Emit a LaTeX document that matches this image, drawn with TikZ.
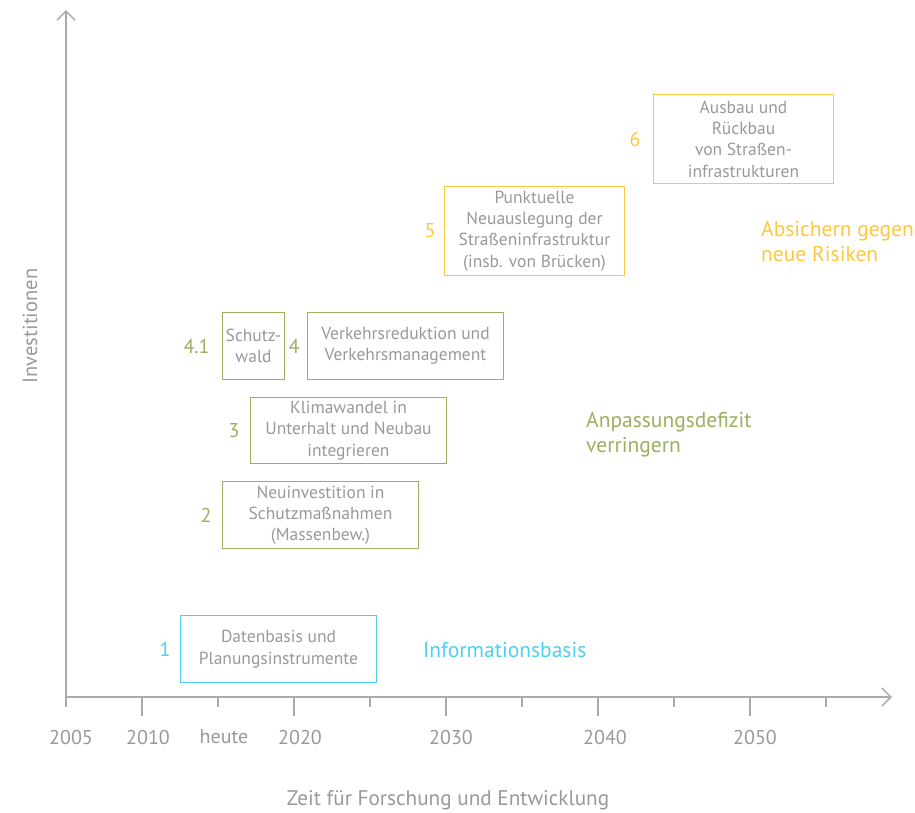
\documentclass[tikz,border=0pt]{standalone}
\usepackage{fontspec}
\setmainfont{PT Sans}
\usetikzlibrary{arrows.meta,positioning}
\definecolor{achsgrau}{HTML}{AAAAAA}
\definecolor{textgrau}{HTML}{999999}
\definecolor{infoblau}{HTML}{4FCFF0}
\definecolor{anpgruen}{HTML}{9BB05F}
\definecolor{risikogelb}{HTML}{FFC83C}

\begin{document}
\begin{tikzpicture}[x=1pt,y=-1pt,
  achse/.style={achsgrau,line width=1.5pt},
  massnahme/.style={draw,line width=1.4pt,text=textgrau,align=center,inner sep=0pt,
    font=\fontsize{17.5}{21.3}\selectfont},
  nummer/.style={font=\fontsize{20}{20}\selectfont,inner sep=0pt},
  ziel/.style={font=\fontsize{21.5}{25}\selectfont,align=left,anchor=west,inner sep=0pt},
  jahr/.style={text=textgrau,font=\fontsize{20}{20}\selectfont,inner sep=0pt}]
\useasboundingbox (0,0) rectangle (915,812);

% Achsen
\coordinate (O) at (66,697);
\coordinate (ytop) at (66,10);
\coordinate (xend) at (892,697);
\draw[achse,-{Straight Barb[length=9pt,width=18pt]}] (O) -- (ytop);
\draw[achse,-{Straight Barb[length=9pt,width=18pt]}] (O) -- (xend);
\foreach \x in {66,218,370,522,674,826}
  \draw[achse] (\x,697) -- (\x,707);
\foreach \x in {142,294,446,598,750}
  \draw[achse] (\x,697) -- (\x,716);
\foreach \x/\t in {71/2005,148/2010,224/heute,300/2020,451/2030,605/2040,755/2050}
  \node[jahr] at (\x,737) {\t};
\node[jahr,rotate=90,font=\fontsize{20.5}{20.5}\selectfont] (yachse) at (30,326) {Investitionen};
\node[jahr,font=\fontsize{21.2}{21.2}\selectfont] (xachse) at (448,800) {Zeit für Forschung und Entwicklung};

% Massnahmen
\node[massnahme,draw=infoblau,minimum width=196pt,minimum height=67pt] (b1) at (278.5,649)
  {Datenbasis und\\Planungsinstrumente};
\node[massnahme,draw=anpgruen,minimum width=196pt,minimum height=67pt] (b2) at (320.5,515)
  {Neuinvestition in\\Schutzmaßnahmen\\(Massenbew.)};
\node[massnahme,draw=anpgruen,minimum width=196pt,minimum height=66pt] (b3) at (348.5,430.5)
  {Klimawandel in\\Unterhalt und Neubau\\integrieren};
\node[massnahme,draw=anpgruen,minimum width=62pt,minimum height=67pt] (b41) at (253.5,346)
  {Schutz-\\wald};
\node[massnahme,draw=anpgruen,minimum width=196pt,minimum height=67pt] (b4) at (405.5,346)
  {Verkehrsreduktion und\\Verkehrsmanagement};
\node[massnahme,draw=risikogelb,minimum width=180pt,minimum height=89pt] (b5) at (534.5,231)
  {Punktuelle\\Neuauslegung der\\Straßeninfrastruktur\\(insb. von Brücken)};
\node[massnahme,draw=risikogelb,minimum width=180pt,minimum height=89pt] (b6) at (743.5,139)
  {Ausbau und\\Rückbau\\von Straßen-\\infrastrukturen};

% Nummern
\node[nummer,infoblau,left=9pt of b1] (n1) {1};
\node[nummer,anpgruen,left=10pt of b2] (n2) {2};
\node[nummer,anpgruen,left=10pt of b3] (n3) {3};
\node[nummer,anpgruen,left=12pt of b41] (n41) {4.1};
\node[nummer,anpgruen,left=7pt of b4] (n4) {4};
\node[nummer,risikogelb,left=8pt of b5] (n5) {5};
\node[nummer,risikogelb,left=12pt of b6] (n6) {6};

% Ziele
\node[ziel,infoblau] (z1) at (423,650) {Informationsbasis};
\node[ziel,anpgruen] (z2) at (586,435) {Anpassungsdefizit\\verringern};
\node[ziel,risikogelb] (z3) at (761,241) {Absichern gegen\\neue Risiken};
\end{tikzpicture}
\end{document}
